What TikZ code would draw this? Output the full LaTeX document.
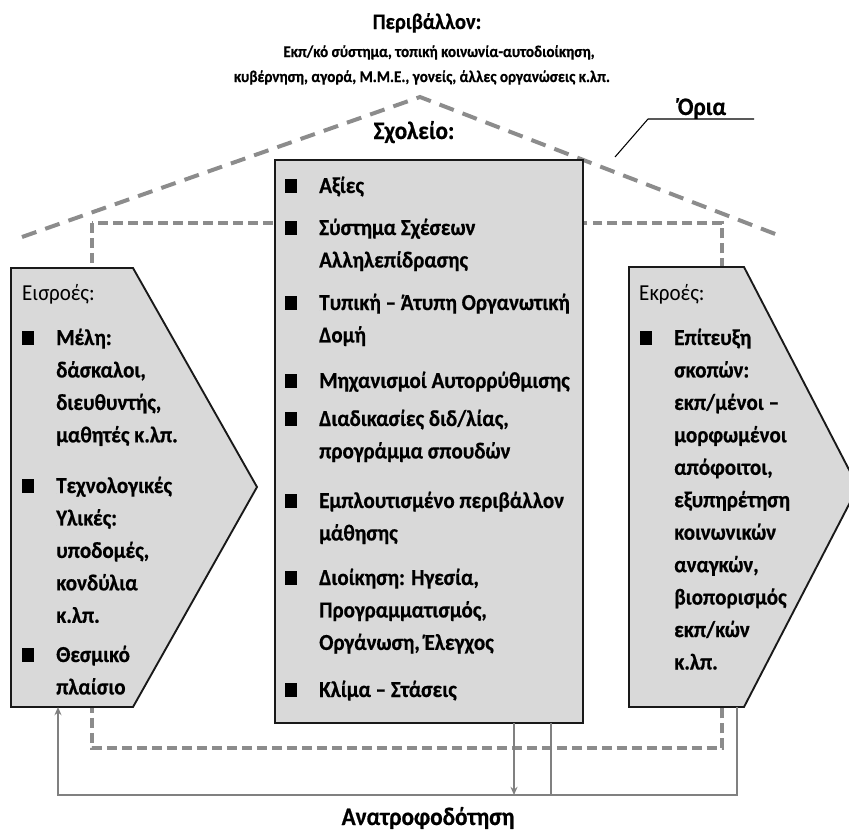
\documentclass[tikz,border=0pt]{standalone}
\usepackage{fontspec}
\setmainfont{Carlito}[BoldFont={Carlito Bold}, BoldFeatures={FakeBold=0.6}, FakeStretch=0.92]
\usetikzlibrary{arrows.meta}

\definecolor{boxgray}{HTML}{D9D9D9}
\definecolor{dashgray}{HTML}{8C8C8C}
\definecolor{fbgray}{HTML}{808080}

% bullet and item lists
\newcommand{\sqb}{\makebox[1.02cm][l]{\rule{0.36cm}{0.42cm}}}
\newcommand{\itemlist}[1]{\begin{tabular}[t]{@{}l@{}l@{}}#1\end{tabular}}

\tikzset{
  shapebox/.style={draw=black!90, line width=1.6pt, fill=boxgray},
  bound/.style={draw=dashgray, line width=3.4pt, dash pattern=on 13pt off 8pt},
  sysline/.style={draw=dashgray, line width=2.6pt, dash pattern=on 8.5pt off 4.3pt},
  fback/.style={draw=fbgray, line width=1.7pt},
  itemtext/.style={anchor=base west, inner sep=0pt, font=\fontsize{19.5}{27.7}\selectfont\bfseries},
  head/.style={anchor=base west, inner sep=0pt, font=\fontsize{19.5}{27.7}\selectfont},
  title/.style={anchor=base, inner sep=0pt, font=\fontsize{21.5}{24}\selectfont\bfseries},
  subtitle/.style={anchor=base, inner sep=0pt, font=\fontsize{14}{17}\selectfont\bfseries},
}

\begin{document}
\begin{tikzpicture}[x=0.03cm, y=-0.03cm]
    \clip (0,0) rectangle (849,834);

    % Όρια: στέγη και σύστημα
    \coordinate (roofL) at (22,237);
    \coordinate (roofTop) at (420,97);
    \coordinate (roofR) at (783,237);
    \draw[bound] (roofL) -- (roofTop) -- (roofR);
    \draw[sysline] (92,223) rectangle (722,748);

    % Σχήματα
    \draw[shapebox] (11,268) -- (133,268) -- (257,487) -- (133,707) -- (11,707) -- cycle;
    \draw[shapebox] (629,267) -- (744,267) -- (858,487) -- (744,707) -- (629,707) -- cycle;
    \draw[shapebox] (275,160) rectangle (583,723);

    % Τίτλοι
    \node[title, font=\fontsize{19}{22}\selectfont\bfseries] (env) at (427,29) {Περιβάλλον:};
    \node[subtitle] (envA) at (439,57) {Εκπ/κό σύστημα, τοπική κοινωνία-αυτοδιοίκηση,};
    \node[subtitle] (envB) at (422,82) {κυβέρνηση, αγορά, Μ.Μ.Ε., γονείς, άλλες οργανώσεις κ.λπ.};
    \node[title] (oria) at (702,115) {Όρια};
    \node[title] (school) at (414,139) {Σχολείο:};
    \node[title] (feedback) at (428,825) {Ανατροφοδότηση};

    % Γραμμή για τα Όρια
    \coordinate (oriaTip) at (615,157);
    \coordinate (oriaL) at (648,119);
    \coordinate (oriaR) at (754,119);
    \draw[line width=0.9pt] (oriaTip) -- (oriaL) -- (oriaR);

    % Εισροές
    \node[head] (inhead) at (22,300) {Εισροές:};
    \node[itemtext] (in1) at (22,345) {\itemlist{\sqb & Μέλη:\\ & δάσκαλοι,\\ & διευθυντής,\\ & μαθητές κ.λπ.}};
    \node[itemtext] (in2) at (22,493) {\itemlist{\sqb & Τεχνολογικές\\ & Υλικές:\\ & υποδομές,\\ & κονδύλια\\ & κ.λπ.}};
    \node[itemtext] (in3) at (22,662) {\itemlist{\sqb & Θεσμικό\\ & πλαίσιο}};

    % Σχολείο
    \node[itemtext] (sc1) at (285,193) {\itemlist{\sqb & Αξίες}};
    \node[itemtext] (sc2) at (285,235) {\itemlist{\sqb & Σύστημα Σχέσεων\\ & Αλληλεπίδρασης}};
    \node[itemtext] (sc3) at (285,310) {\itemlist{\sqb & Τυπική – Άτυπη Οργανωτική\\ & Δομή}};
    \node[itemtext] (sc4) at (285,388) {\itemlist{\sqb & Μηχανισμοί Αυτορρύθμισης}};
    \node[itemtext] (sc5) at (285,426) {\itemlist{\sqb & Διαδικασίες διδ/λίας,\\ & προγράμμα σπουδών}};
    \node[itemtext] (sc6) at (285,508) {\itemlist{\sqb & Εμπλουτισμένο περιβάλλον\\ & μάθησης}};
    \node[itemtext] (sc7) at (285,585) {\itemlist{\sqb & Διοίκηση: Ηγεσία,\\ & Προγραμματισμός,\\ & Οργάνωση, Έλεγχος}};
    \node[itemtext] (sc8) at (285,697) {\itemlist{\sqb & Κλίμα – Στάσεις}};

    % Εκροές
    \node[head] (outhead) at (639,300) {Εκροές:};
    \node[itemtext] (out1) at (640,345) {\itemlist{\sqb & Επίτευξη\\ & σκοπών:\\ & εκπ/μένοι –\\ & μορφωμένοι\\ & απόφοιτοι,\\ & εξυπηρέτηση\\ & κοινωνικών\\ & αναγκών,\\ & βιοπορισμός\\ & εκπ/κών\\ & κ.λπ.}};

    % Ανατροφοδότηση
    \coordinate (outB) at (737,707);
    \coordinate (fbR) at (737,795);
    \coordinate (fbL) at (58,795);
    \coordinate (inB) at (58,707);
    \coordinate (scA) at (514,723);
    \coordinate (scB) at (551,723);
    \draw[fback, -{Stealth[length=7pt,width=6pt]}] (outB) -- (fbR) -- (fbL) -- (inB);
    \draw[fback, -{Stealth[length=7pt,width=6pt]}] (scA) -- (scA |- fbL);
    \draw[fback] (scB) -- (scB |- fbL);
\end{tikzpicture}
\end{document}
